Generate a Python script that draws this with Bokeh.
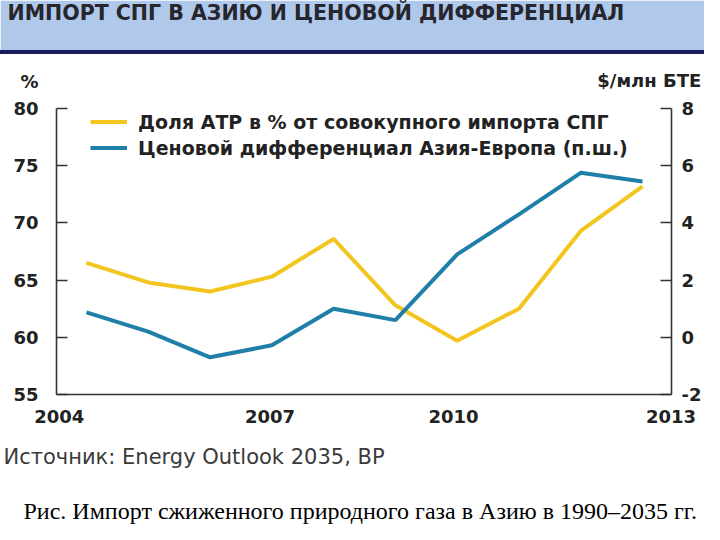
from bokeh.plotting import figure
from bokeh.models import Range1d, LinearAxis, FixedTicker, Legend, LegendItem, Title, Div
from bokeh.layouts import column
from bokeh.embed import file_html
from bokeh.resources import INLINE

# ---- data ----
years = [2004, 2005, 2006, 2007, 2008, 2009, 2010, 2011, 2012, 2013]
apac_share = [66.5, 64.8, 64.0, 65.3, 68.6, 62.8, 59.7, 62.5, 69.3, 73.2]   # % (left axis)
price_diff = [0.87, 0.2, -0.7, -0.28, 1.0, 0.6, 2.9, 4.3, 5.75, 5.45]       # $/mmBtu (right axis)

x_tick_pos = [2003.56, 2006.97, 2009.94, 2013.46]
x_tick_labels = ["2004", "2007", "2010", "2013"]
left_ticks = [55, 60, 65, 70, 75, 80]
right_ticks = [-2, 0, 2, 4, 6, 8]

title_text = "ИМПОРТ СПГ В АЗИЮ И ЦЕНОВОЙ ДИФФЕРЕНЦИАЛ"
legend_labels = ["Доля АТР в % от совокупного импорта СПГ",
                 "Ценовой дифференциал Азия-Европа (п.ш.)"]
left_unit = "%"
right_unit = "$/млн БТЕ"
source_text = "Источник: Energy Outlook 2035, BP"
caption_text = "Рис. Импорт сжиженного природного газа в Азию в 1990–2035 гг."

# where the unit captions sit (data units of the left axis / x axis)
left_unit_level = 82.36
right_unit_x = 2013.11

YELLOW = "#f3c61f"
BLUE = "#1f7fa8"
AXIS = "#333333"
TXT = "#222222"
BAND = "#b0c8ea"
NAVY = "#1b1b5c"
FONT = "DejaVu Sans"

W = 704
ML, MR = 56, 32


def blank(height, fill, top=0):
    f = figure(width=W, height=height, x_range=Range1d(0, 1), y_range=Range1d(0, 1),
               toolbar_location=None, output_backend="svg", title=None,
               x_axis_type=None, y_axis_type=None,
               min_border_left=ML, min_border_right=MR, min_border_top=top, min_border_bottom=0,
               background_fill_color=fill, border_fill_color=fill,
               outline_line_color=fill, outline_line_width=3)
    f.grid.visible = False
    return f


# ---- header band ----
hdr = blank(50, BAND, top=26)
hdr.add_layout(Title(text=title_text, align="left", offset=-49, standoff=0,
                     vertical_align="top", text_font=FONT, text_font_style="bold",
                     text_font_size="20.5px", text_color="#26262e"), "above")

rule = Div(text="", width=W, height=4, margin=0,
           styles={"background-color": NAVY, "overflow": "hidden"})

# ---- main chart ----
p = figure(width=W, height=442, title=None,
           x_range=Range1d(2003.515, 2013.469), y_range=Range1d(55, 82.45),
           toolbar_location=None, output_backend="svg",
           min_border_left=ML, min_border_right=MR, min_border_top=26, min_border_bottom=102,
           outline_line_color=None)
p.extra_y_ranges = {"right": Range1d(-2, 8.979)}
p.grid.visible = False


def style_labels(ax):
    ax.major_label_text_font = FONT
    ax.major_label_text_font_style = "bold"
    ax.major_label_text_font_size = "18px"
    ax.major_label_text_color = TXT
    ax.minor_tick_line_color = None
    ax.minor_tick_in = 0
    ax.minor_tick_out = 0


# bottom axis
xa = p.xaxis[0]
xa.ticker = FixedTicker(ticks=x_tick_pos)
xa.major_label_overrides = dict(zip(x_tick_pos, x_tick_labels))
xa.major_tick_line_color = None
xa.major_tick_in = 0
xa.major_tick_out = 0
xa.major_label_standoff = 15
xa.axis_line_color = AXIS
xa.axis_line_width = 1.6
style_labels(xa)

# left axis: line + inward ticks
ya = p.yaxis[0]
ya.ticker = FixedTicker(ticks=left_ticks)
ya.bounds = (55, 80)
ya.major_label_overrides = {t: "" for t in left_ticks}
ya.major_label_standoff = 0
ya.major_tick_in = 11
ya.major_tick_out = 0
ya.major_tick_line_color = AXIS
ya.major_tick_line_width = 1.6
ya.axis_line_color = AXIS
ya.axis_line_width = 1.6
style_labels(ya)

# left axis labels (numbers + unit)
yl = LinearAxis(ticker=FixedTicker(ticks=left_ticks + [left_unit_level]),
                major_label_overrides={left_unit_level: left_unit},
                axis_line_color=None, major_tick_line_color=None,
                major_tick_in=0, major_tick_out=0, major_label_standoff=18)
style_labels(yl)
p.add_layout(yl, "left")

# right axis
yr = LinearAxis(y_range_name="right", ticker=FixedTicker(ticks=right_ticks), bounds=(-2, 8),
                major_label_overrides={-2: "-2"},
                major_tick_in=11, major_tick_out=0, major_label_standoff=10)
yr.major_tick_line_color = AXIS
yr.major_tick_line_width = 1.6
yr.axis_line_color = AXIS
yr.axis_line_width = 1.6
style_labels(yr)
p.add_layout(yr, "right")

# right unit caption above the frame
ua = LinearAxis(ticker=FixedTicker(ticks=[right_unit_x]),
                major_label_overrides={right_unit_x: right_unit},
                axis_line_color=None, major_tick_line_color=None,
                major_tick_in=0, major_tick_out=0, major_label_standoff=-10)
style_labels(ua)
p.add_layout(ua, "above")

r1 = p.line(years, apac_share, line_color=YELLOW, line_width=4)
r2 = p.line(years, price_diff, y_range_name="right", line_color=BLUE, line_width=4)

legend = Legend(items=[LegendItem(label=legend_labels[0], renderers=[r1]),
                       LegendItem(label=legend_labels[1], renderers=[r2])],
                location=(34, 235), orientation="vertical",
                glyph_width=37, glyph_height=23, label_height=23,
                label_standoff=11, spacing=3, padding=0, margin=0,
                background_fill_alpha=0, border_line_color=None,
                label_text_font=FONT, label_text_font_style="bold",
                label_text_font_size="19px", label_text_color=TXT)
p.add_layout(legend, "center")

p.add_layout(Title(text=source_text, align="left", offset=-53, standoff=39,
                   vertical_align="top", text_font=FONT, text_font_style="normal",
                   text_font_size="21px", text_color="#3a3a3a"), "below")

# ---- caption strip ----
cap = blank(28, "#ffffff", top=27)
cap.outline_line_color = None
cap.add_layout(Title(text=caption_text, align="left", offset=-33, standoff=-4,
                     vertical_align="top", text_font="Liberation Serif", text_font_style="normal",
                     text_font_size="24px", text_color="#000000"), "above")

layout = column(hdr, rule, p, cap)
open("out.html", "w").write(file_html(layout, INLINE))
